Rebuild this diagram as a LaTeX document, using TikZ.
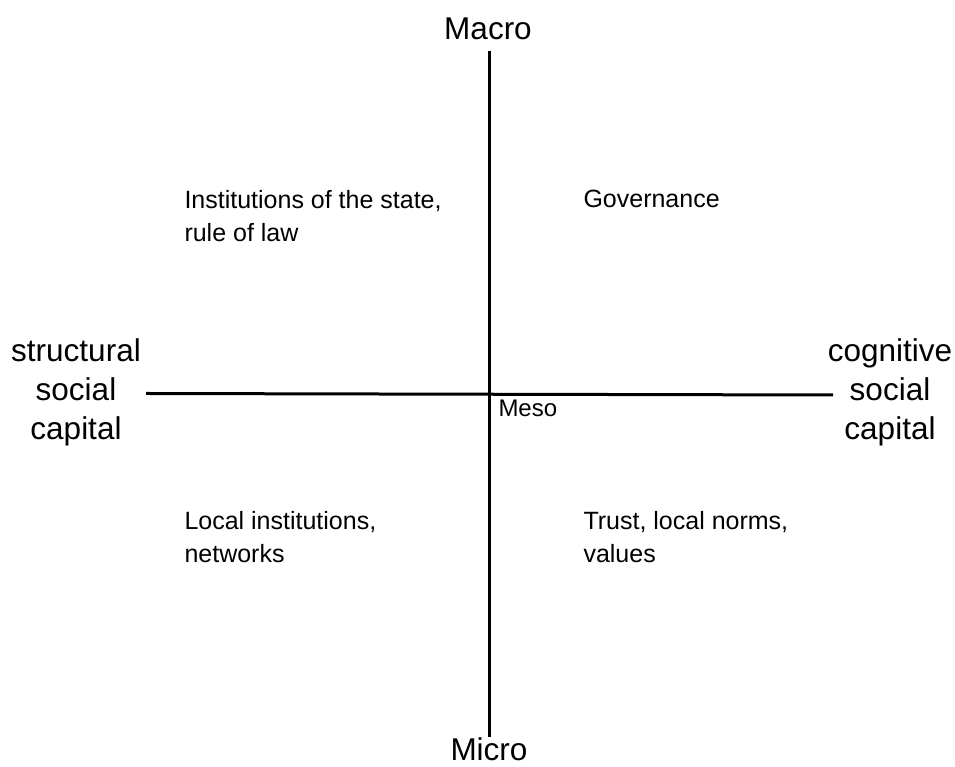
\documentclass[tikz,border=0pt]{standalone}
\usepackage{fontspec}
\setmainfont{Liberation Sans}

\begin{document}
\begin{tikzpicture}[x=1pt, y=1pt, line width=3pt,
  biglabel/.style={font=\fontsize{31.5}{39}\selectfont, align=center, inner sep=0, anchor=base},
  quadlabel/.style={font=\fontsize{25}{33}\selectfont, align=left, inner sep=0, anchor=base west}]
\useasboundingbox (0,0) rectangle (955,767);

% ends of the two axes
\coordinate (top) at (489.5,716);
\coordinate (bottom) at (489.5,30);
\coordinate (left) at (146,373.5);
\coordinate (right) at (833,372);

\draw (top) -- (bottom);
\draw (left) -- (right);

% axis labels (base = last line)
\node [biglabel] (macro) at (488,727) {Macro};
\node [biglabel] (micro) at (489,6) {Micro};
\node [biglabel] (struct) at (76,327) {structural\\social\\capital};
\node [biglabel] (cogn) at (890,327) {cognitive\\social\\capital};
\node [quadlabel, font=\fontsize{24}{28}\selectfont] (meso) at (497,350) {Meso};

% the four quadrants
\node [quadlabel] (state) at (183,525) {Institutions of the state,\\rule of law};
\node [quadlabel] (gov) at (582,559) {Governance};
\node [quadlabel] (local) at (183,204) {Local institutions,\\networks};
\node [quadlabel] (trust) at (582,204) {Trust, local norms,\\values};
\end{tikzpicture}
\end{document}
